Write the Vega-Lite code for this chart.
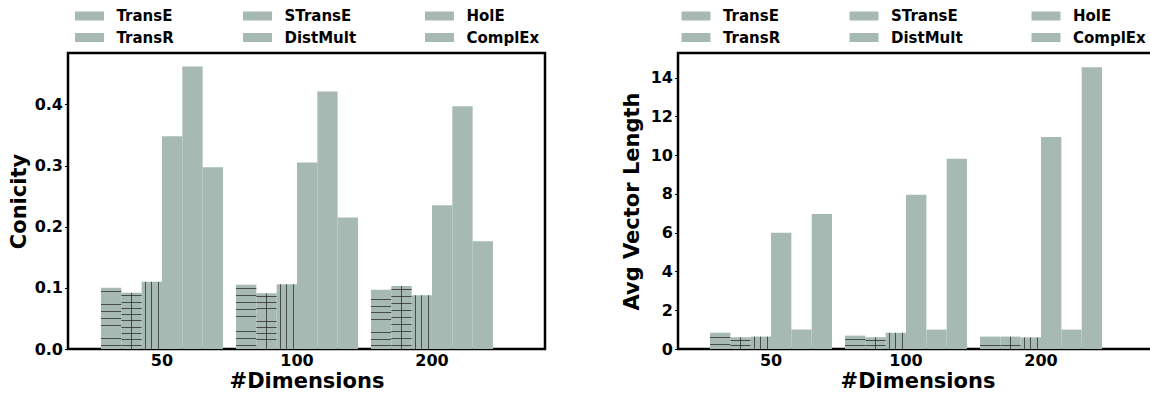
{
  "$schema": "https://vega.github.io/schema/vega-lite/v6.json",
  "background": "white",
  "padding": {"left": 6, "top": 4, "right": -5, "bottom": 0},
  "spacing": 72,
  "resolve": {"scale": {"color": "independent"}, "legend": {"color": "independent"}},
  "config": {
    "font": "DejaVu Sans",
    "view": {"stroke": "black", "strokeWidth": 2.5},
    "axis": {
      "labelFont": "DejaVu Sans", "labelFontWeight": "bold", "labelFontSize": 16, "labelColor": "black",
      "titleFont": "DejaVu Sans", "titleFontWeight": "bold", "titleFontSize": 21, "titleColor": "black",
      "grid": false, "domain": false, "tickColor": "black", "tickSize": 3.5, "tickWidth": 1
    },
    "legend": {
      "orient": "none", "legendX": 10.5, "legendY": -47, "direction": "horizontal", "columns": 3,
      "columnPadding": 68, "rowPadding": 3.5, "padding": 0,
      "symbolType": "M-1.45,-0.45H1.45V0.45H-1.45Z", "symbolSize": 400, "symbolStrokeWidth": 0, "symbolOpacity": 1,
      "labelFont": "DejaVu Sans", "labelFontWeight": "bold", "labelFontSize": 15, "labelColor": "black",
      "labelOffset": 17, "labelLimit": 300
    }
  },
  "datasets": {
    "conicity": [
      {"dim": "50", "model": "TransE", "value": 0.100},
      {"dim": "50", "model": "TransR", "value": 0.092},
      {"dim": "50", "model": "STransE", "value": 0.110},
      {"dim": "50", "model": "DistMult", "value": 0.348},
      {"dim": "50", "model": "HolE", "value": 0.462},
      {"dim": "50", "model": "ComplEx", "value": 0.297},
      {"dim": "100", "model": "TransE", "value": 0.105},
      {"dim": "100", "model": "TransR", "value": 0.091},
      {"dim": "100", "model": "STransE", "value": 0.106},
      {"dim": "100", "model": "DistMult", "value": 0.305},
      {"dim": "100", "model": "HolE", "value": 0.421},
      {"dim": "100", "model": "ComplEx", "value": 0.215},
      {"dim": "200", "model": "TransE", "value": 0.097},
      {"dim": "200", "model": "TransR", "value": 0.103},
      {"dim": "200", "model": "STransE", "value": 0.088},
      {"dim": "200", "model": "DistMult", "value": 0.235},
      {"dim": "200", "model": "HolE", "value": 0.397},
      {"dim": "200", "model": "ComplEx", "value": 0.176}
    ],
    "length": [
      {"dim": "50", "model": "TransE", "value": 0.84},
      {"dim": "50", "model": "TransR", "value": 0.60},
      {"dim": "50", "model": "STransE", "value": 0.64},
      {"dim": "50", "model": "DistMult", "value": 6.0},
      {"dim": "50", "model": "HolE", "value": 1.0},
      {"dim": "50", "model": "ComplEx", "value": 6.96},
      {"dim": "100", "model": "TransE", "value": 0.69},
      {"dim": "100", "model": "TransR", "value": 0.60},
      {"dim": "100", "model": "STransE", "value": 0.84},
      {"dim": "100", "model": "DistMult", "value": 7.96},
      {"dim": "100", "model": "HolE", "value": 1.0},
      {"dim": "100", "model": "ComplEx", "value": 9.81},
      {"dim": "200", "model": "TransE", "value": 0.64},
      {"dim": "200", "model": "TransR", "value": 0.64},
      {"dim": "200", "model": "STransE", "value": 0.60},
      {"dim": "200", "model": "DistMult", "value": 10.94},
      {"dim": "200", "model": "HolE", "value": 1.0},
      {"dim": "200", "model": "ComplEx", "value": 14.54}
    ]
  },
  "hconcat": [
    {
      "width": 477, "height": 296,
      "data": {"name": "conicity"},
      "encoding": {
        "x": {"field": "dim", "type": "nominal", "sort": ["50", "100", "200"],
          "scale": {"paddingInner": 0.0963, "paddingOuter": 0.3148, "align": 0.388},
          "axis": {"title": "#Dimensions", "labelAngle": 0, "ticks": false, "bandPosition": 0.5833, "labelPadding": 3, "titlePadding": 2}},
        "xOffset": {"field": "model", "type": "nominal", "sort": ["TransE", "TransR", "STransE", "DistMult", "HolE", "ComplEx"],
          "scale": {"paddingInner": 0, "paddingOuter": 0}},
        "y": {"field": "value", "type": "quantitative", "scale": {"domain": [0, 0.484], "nice": false, "zero": true},
          "axis": {"title": "Conicity", "values": [0, 0.1, 0.2, 0.3, 0.4], "format": ".1f", "labelPadding": 2, "titlePadding": 5}}
      },
      "layer": [
        {
          "mark": {"type": "bar"},
          "encoding": {
            "color": {"field": "model", "type": "nominal",
              "scale": {"domain": ["TransE", "STransE", "HolE", "TransR", "DistMult", "ComplEx"],
                "range": ["#a6bab3", "#a6bab3", "#a6bab3", "#a6bab3", "#a6bab3", "#a6bab3"]},
              "legend": {"title": null, "legendX": 11.5}}
          }
        },
        {
          "transform": [{"filter": {"field": "model", "oneOf": ["TransE", "TransR"]}}],
          "mark": {"type": "bar", "fill": {"gradient": "linear", "x1": 0, "y1": 0, "x2": 0, "y2": 1, "stops": [
            {"offset": 0, "color": "rgba(0,0,0,0)"},
            {"offset": 0.0486, "color": "rgba(0,0,0,0)"}, {"offset": 0.0486, "color": "rgba(30,30,30,0.7)"}, {"offset": 0.0626, "color": "rgba(30,30,30,0.7)"}, {"offset": 0.0626, "color": "rgba(0,0,0,0)"},
            {"offset": 0.1597, "color": "rgba(0,0,0,0)"}, {"offset": 0.1597, "color": "rgba(30,30,30,0.7)"}, {"offset": 0.1737, "color": "rgba(30,30,30,0.7)"}, {"offset": 0.1737, "color": "rgba(0,0,0,0)"},
            {"offset": 0.2708, "color": "rgba(0,0,0,0)"}, {"offset": 0.2708, "color": "rgba(30,30,30,0.7)"}, {"offset": 0.2848, "color": "rgba(30,30,30,0.7)"}, {"offset": 0.2848, "color": "rgba(0,0,0,0)"},
            {"offset": 0.3819, "color": "rgba(0,0,0,0)"}, {"offset": 0.3819, "color": "rgba(30,30,30,0.7)"}, {"offset": 0.3959, "color": "rgba(30,30,30,0.7)"}, {"offset": 0.3959, "color": "rgba(0,0,0,0)"},
            {"offset": 0.493, "color": "rgba(0,0,0,0)"}, {"offset": 0.493, "color": "rgba(30,30,30,0.7)"}, {"offset": 0.507, "color": "rgba(30,30,30,0.7)"}, {"offset": 0.507, "color": "rgba(0,0,0,0)"},
            {"offset": 0.6041, "color": "rgba(0,0,0,0)"}, {"offset": 0.6041, "color": "rgba(30,30,30,0.7)"}, {"offset": 0.6181, "color": "rgba(30,30,30,0.7)"}, {"offset": 0.6181, "color": "rgba(0,0,0,0)"},
            {"offset": 0.7152, "color": "rgba(0,0,0,0)"}, {"offset": 0.7152, "color": "rgba(30,30,30,0.7)"}, {"offset": 0.7292, "color": "rgba(30,30,30,0.7)"}, {"offset": 0.7292, "color": "rgba(0,0,0,0)"},
            {"offset": 0.8263, "color": "rgba(0,0,0,0)"}, {"offset": 0.8263, "color": "rgba(30,30,30,0.7)"}, {"offset": 0.8403, "color": "rgba(30,30,30,0.7)"}, {"offset": 0.8403, "color": "rgba(0,0,0,0)"},
            {"offset": 0.9374, "color": "rgba(0,0,0,0)"}, {"offset": 0.9374, "color": "rgba(30,30,30,0.7)"}, {"offset": 0.9514, "color": "rgba(30,30,30,0.7)"}, {"offset": 0.9514, "color": "rgba(0,0,0,0)"},
            {"offset": 1, "color": "rgba(0,0,0,0)"}
          ]}}
        },
        {
          "transform": [{"filter": {"field": "model", "oneOf": ["TransR", "STransE"]}}],
          "mark": {"type": "bar", "fill": {"gradient": "linear", "x1": 0, "y1": 0, "x2": 1, "y2": 0, "stops": [
            {"offset": 0, "color": "rgba(0,0,0,0)"},
            {"offset": 0.158, "color": "rgba(0,0,0,0)"}, {"offset": 0.158, "color": "rgba(30,30,30,0.7)"}, {"offset": 0.202, "color": "rgba(30,30,30,0.7)"}, {"offset": 0.202, "color": "rgba(0,0,0,0)"},
            {"offset": 0.478, "color": "rgba(0,0,0,0)"}, {"offset": 0.478, "color": "rgba(30,30,30,0.7)"}, {"offset": 0.522, "color": "rgba(30,30,30,0.7)"}, {"offset": 0.522, "color": "rgba(0,0,0,0)"},
            {"offset": 0.798, "color": "rgba(0,0,0,0)"}, {"offset": 0.798, "color": "rgba(30,30,30,0.7)"}, {"offset": 0.842, "color": "rgba(30,30,30,0.7)"}, {"offset": 0.842, "color": "rgba(0,0,0,0)"},
            {"offset": 1, "color": "rgba(0,0,0,0)"}
          ]}}
        }
      ]
    },
    {
      "width": 479, "height": 296,
      "data": {"name": "length"},
      "encoding": {
        "x": {"field": "dim", "type": "nominal", "sort": ["50", "100", "200"],
          "scale": {"paddingInner": 0.0963, "paddingOuter": 0.3222, "align": 0.368},
          "axis": {"title": "#Dimensions", "labelAngle": 0, "ticks": false, "bandPosition": 0.5833, "labelPadding": 3, "titlePadding": 2}},
        "xOffset": {"field": "model", "type": "nominal", "sort": ["TransE", "TransR", "STransE", "DistMult", "HolE", "ComplEx"],
          "scale": {"paddingInner": 0, "paddingOuter": 0}},
        "y": {"field": "value", "type": "quantitative", "scale": {"domain": [0, 15.27], "nice": false, "zero": true},
          "axis": {"title": "Avg Vector Length", "values": [0, 2, 4, 6, 8, 10, 12, 14], "labelPadding": 2, "titlePadding": 8}}
      },
      "layer": [
        {
          "mark": {"type": "bar"},
          "encoding": {
            "color": {"field": "model", "type": "nominal",
              "scale": {"domain": ["TransE", "STransE", "HolE", "TransR", "DistMult", "ComplEx"],
                "range": ["#a6bab3", "#a6bab3", "#a6bab3", "#a6bab3", "#a6bab3", "#a6bab3"]},
              "legend": {"title": null, "legendX": 8}}
          }
        },
        {
          "transform": [{"filter": {"field": "model", "oneOf": ["TransE", "TransR"]}}],
          "mark": {"type": "bar", "fill": {"gradient": "linear", "x1": 0, "y1": 0, "x2": 0, "y2": 1, "stops": [
            {"offset": 0, "color": "rgba(0,0,0,0)"},
            {"offset": 0.25, "color": "rgba(0,0,0,0)"}, {"offset": 0.25, "color": "rgba(30,30,30,0.7)"}, {"offset": 0.31, "color": "rgba(30,30,30,0.7)"}, {"offset": 0.31, "color": "rgba(0,0,0,0)"},
            {"offset": 0.69, "color": "rgba(0,0,0,0)"}, {"offset": 0.69, "color": "rgba(30,30,30,0.7)"}, {"offset": 0.75, "color": "rgba(30,30,30,0.7)"}, {"offset": 0.75, "color": "rgba(0,0,0,0)"},
            {"offset": 1, "color": "rgba(0,0,0,0)"}
          ]}}
        },
        {
          "transform": [{"filter": {"field": "model", "oneOf": ["TransR", "STransE"]}}],
          "mark": {"type": "bar", "fill": {"gradient": "linear", "x1": 0, "y1": 0, "x2": 1, "y2": 0, "stops": [
            {"offset": 0, "color": "rgba(0,0,0,0)"},
            {"offset": 0.158, "color": "rgba(0,0,0,0)"}, {"offset": 0.158, "color": "rgba(30,30,30,0.7)"}, {"offset": 0.202, "color": "rgba(30,30,30,0.7)"}, {"offset": 0.202, "color": "rgba(0,0,0,0)"},
            {"offset": 0.478, "color": "rgba(0,0,0,0)"}, {"offset": 0.478, "color": "rgba(30,30,30,0.7)"}, {"offset": 0.522, "color": "rgba(30,30,30,0.7)"}, {"offset": 0.522, "color": "rgba(0,0,0,0)"},
            {"offset": 0.798, "color": "rgba(0,0,0,0)"}, {"offset": 0.798, "color": "rgba(30,30,30,0.7)"}, {"offset": 0.842, "color": "rgba(30,30,30,0.7)"}, {"offset": 0.842, "color": "rgba(0,0,0,0)"},
            {"offset": 1, "color": "rgba(0,0,0,0)"}
          ]}}
        }
      ]
    }
  ]
}
